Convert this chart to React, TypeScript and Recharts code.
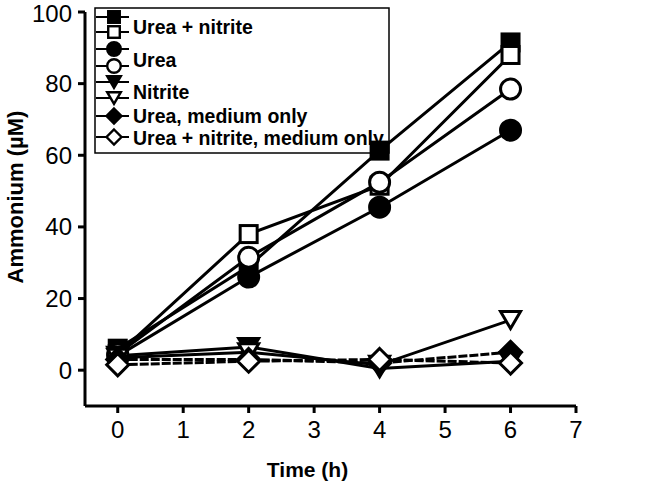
import React from "react";
import { LineChart, Line, XAxis, YAxis, Legend } from "recharts";

const times = [0, 2, 4, 6];
const ureaNitriteFilled = [6, 29, 61.3, 91.5];
const ureaNitriteOpen = [4.5, 38, 51.5, 88];
const ureaFilled = [4, 26, 45.5, 67];
const ureaOpen = [4.5, 31.5, 52.5, 78.5];
const nitriteFilled = [4, 6.5, 0.5, 2.5];
const nitriteOpen = [3.5, 5, 1.5, 14];
const ureaMediumOnly = [3, 3, 2, 5];
const ureaNitriteMediumOnly = [1.5, 2.5, 3, 2];

const xTicks = [0, 1, 2, 3, 4, 5, 6, 7];
const yTicks = [0, 20, 40, 60, 80, 100];

type SeriesDef = { key: string; name: string; values: number[]; shape: string; filled: boolean; dashed: boolean };

const series: SeriesDef[] = [
  { key: "s1", name: "Urea + nitrite", values: ureaNitriteFilled, shape: "square", filled: true, dashed: false },
  { key: "s2", name: "Urea + nitrite (open)", values: ureaNitriteOpen, shape: "square", filled: false, dashed: false },
  { key: "s3", name: "Urea", values: ureaFilled, shape: "circle", filled: true, dashed: false },
  { key: "s4", name: "Urea (open)", values: ureaOpen, shape: "circle", filled: false, dashed: false },
  { key: "s5", name: "Nitrite", values: nitriteFilled, shape: "tri", filled: true, dashed: false },
  { key: "s6", name: "Nitrite (open)", values: nitriteOpen, shape: "tri", filled: false, dashed: false },
  { key: "s7", name: "Urea, medium only", values: ureaMediumOnly, shape: "diamond", filled: true, dashed: true },
  { key: "s8", name: "Urea + nitrite, medium only", values: ureaNitriteMediumOnly, shape: "diamond", filled: false, dashed: true },
];

const data = times.map((t, i) => {
  const row: Record<string, number> = { t };
  series.forEach((s) => (row[s.key] = s.values[i]));
  return row;
});

const FONT = "'Liberation Sans', Arial, sans-serif";

function Marker({ cx, cy, shape, filled, scale = 1 }: any) {
  const fill = filled ? "#000" : "#fff";
  const sw = 3 * (scale < 1 ? 0.8 : 1);
  if (shape === "square") {
    const s = 17 * scale;
    return <rect x={cx - s / 2} y={cy - s / 2} width={s} height={s} fill={fill} stroke="#000" strokeWidth={sw} />;
  }
  if (shape === "circle") {
    return <circle cx={cx} cy={cy} r={10 * scale} fill={fill} stroke="#000" strokeWidth={sw} />;
  }
  if (shape === "tri") {
    const w = 20 * scale;
    const h = 17 * scale;
    const pts = `${cx - w / 2},${cy - h / 2} ${cx + w / 2},${cy - h / 2} ${cx},${cy + h / 2}`;
    return <polygon points={pts} fill={fill} stroke="#000" strokeWidth={sw} strokeLinejoin="miter" />;
  }
  const d = 11 * scale;
  const pts = `${cx},${cy - d} ${cx + d},${cy} ${cx},${cy + d} ${cx - d},${cy}`;
  return <polygon points={pts} fill={fill} stroke="#000" strokeWidth={sw} />;
}

const legendRows = [18, 33, 50, 67, 83, 99, 117, 138];
const legendLabels = [
  { text: "Urea + nitrite", y: 28 },
  { text: "Urea", y: 61 },
  { text: "Nitrite", y: 93 },
  { text: "Urea, medium only", y: 117 },
  { text: "Urea + nitrite, medium only", y: 139 },
];

function LegendBox() {
  const ox = 95;
  const oy = 8;
  return (
    <svg width={300} height={148} style={{ display: "block" }}>
      <rect x={1} y={1} width={294} height={145} fill="#fff" stroke="#000" strokeWidth={1.5} />
      {series.map((s, i) => {
        const y = legendRows[i] - oy;
        return (
          <g key={s.key}>
            <line x1={97 - ox} x2={130 - ox} y1={y} y2={y} stroke="#000" strokeWidth={2} />
            <Marker cx={115 - ox} cy={y} shape={s.shape} filled={s.filled} scale={0.68} />
          </g>
        );
      })}
      {legendLabels.map((l) => (
        <text key={l.text} x={134 - ox} y={l.y - oy} dy="0.36em" fontFamily={FONT} fontWeight="bold" fontSize={19.5} fill="#000">
          {l.text}
        </text>
      ))}
    </svg>
  );
}

export default function App() {
  return (
    <div style={{ position: "absolute", left: 0, top: 0, width: 664, height: 481, background: "#fff", zIndex: 0 }}>
      <LineChart width={664} height={481} data={data} margin={{ top: 12, right: 88, bottom: 0, left: 0 }}>
        <XAxis
          dataKey="t"
          type="number"
          domain={[-0.5, 7]}
          ticks={xTicks}
          allowDataOverflow
          height={75}
          axisLine={{ stroke: "#000", strokeWidth: 3 }}
          tickLine={{ stroke: "#000", strokeWidth: 3 }}
          tickSize={7}
          tickMargin={8}
          tick={{ fill: "#000", fontSize: 24, fontFamily: FONT }}
          label={{ value: "Time (h)", position: "insideBottom", offset: 4, dx: -23, fill: "#000", fontSize: 21, fontWeight: "bold", fontFamily: FONT }}
        />
        <YAxis
          type="number"
          domain={[-10, 100]}
          ticks={yTicks}
          allowDataOverflow
          width={85}
          axisLine={{ stroke: "#000", strokeWidth: 3 }}
          tickLine={{ stroke: "#000", strokeWidth: 3 }}
          tickSize={7}
          tickMargin={6}
          tick={{ fill: "#000", fontSize: 24, fontFamily: FONT }}
          label={{ value: "Ammonium (µM)", angle: -90, position: "insideLeft", dx: 10, dy: -12, fill: "#000", fontSize: 22, fontWeight: "bold", fontFamily: FONT, style: { textAnchor: "middle" } }}
        />
        <Legend
          layout="vertical"
          align="center"
          verticalAlign="middle"
          wrapperStyle={{ position: "absolute", left: 94, top: 7, width: 300, height: 148, zIndex: -1 }}
          content={() => <LegendBox />}
        />
        {series.map((s) => (
          <Line
            key={s.key}
            dataKey={s.key}
            name={s.name}
            stroke="#000"
            strokeWidth={3}
            strokeDasharray={s.dashed ? "9 2" : undefined}
            isAnimationActive={false}
            dot={(p: any) => <Marker key={`${s.key}-${p.index}`} cx={p.cx} cy={p.cy} shape={s.shape} filled={s.filled} />}
            activeDot={false}
          />
        ))}
      </LineChart>
    </div>
  );
}
